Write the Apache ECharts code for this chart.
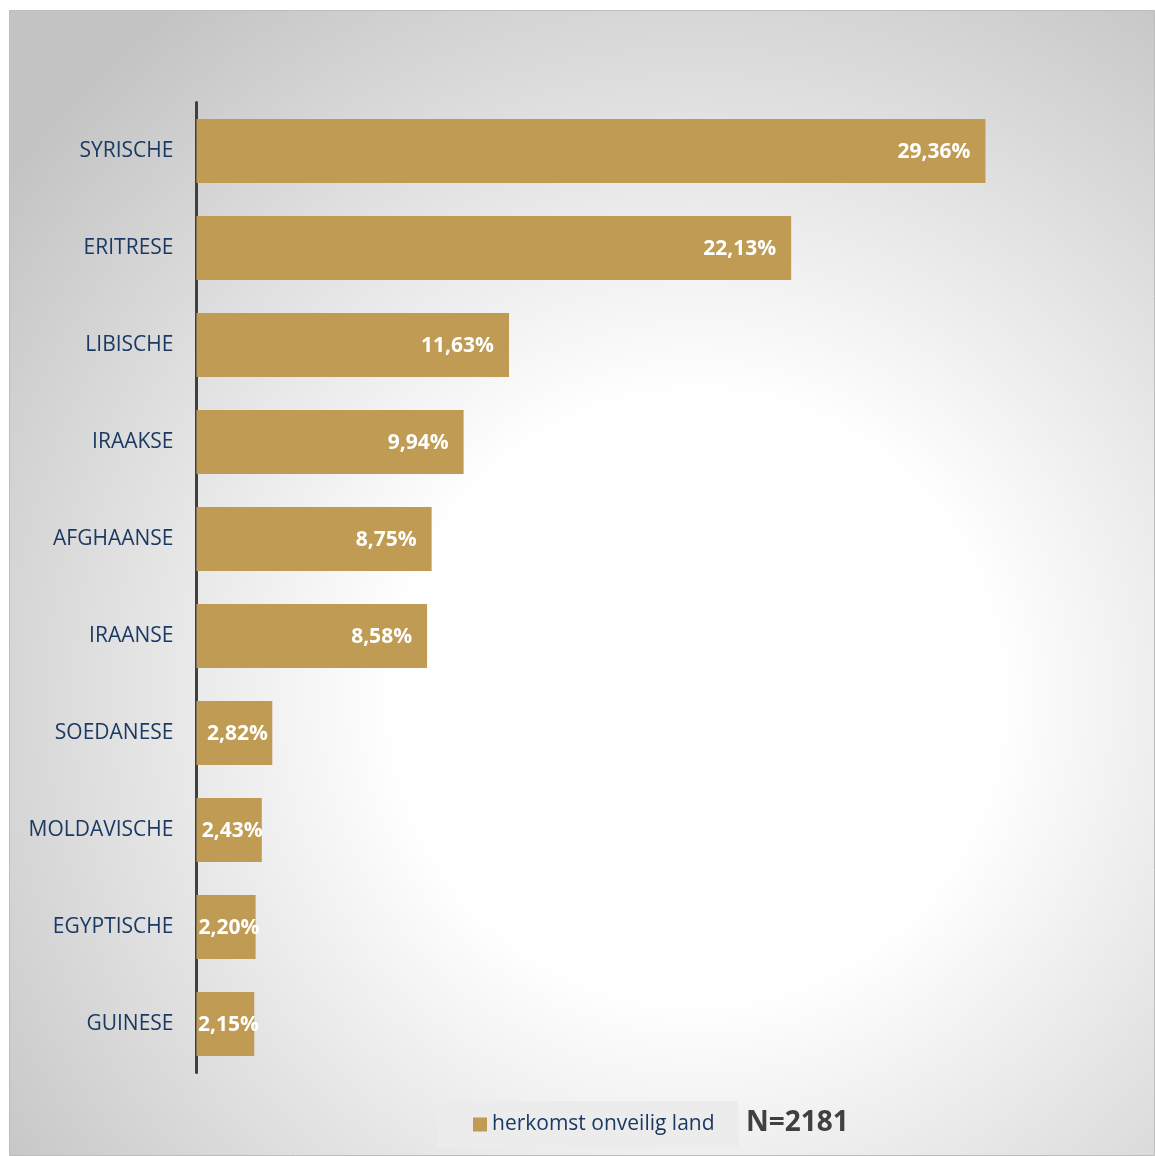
<!DOCTYPE html>
<html>
<head>
<meta charset="utf-8">
<script src="https://cdn.jsdelivr.net/npm/echarts@6/dist/echarts.min.js"></script>
<style>html,body{margin:0;padding:0;background:#fff;}#c{width:1155px;height:1156px;}</style>
</head>
<body>
<div id="c"></div>
<script>
const categories = ['SYRISCHE','ERITRESE','LIBISCHE','IRAAKSE','AFGHAANSE','IRAANSE','SOEDANESE','MOLDAVISCHE','EGYPTISCHE','GUINESE'];
const values = [29.36, 22.13, 11.63, 9.94, 8.75, 8.58, 2.82, 2.43, 2.20, 2.15];
const seriesName = 'herkomst onveilig land';
const note = 'N=2181';

const chart = echarts.init(document.getElementById('c'));
const data = values.map(v => ({
  value: v,
  label: v < 5 ? { position: 'inside', offset: [3, 1] } : { position: 'insideRight', distance: 15, offset: [0, 1] }
}));
chart.setOption({
  backgroundColor: '#ffffff',
  animation: false,
  graphic: [
    {
      type: 'rect', z: -10, silent: true,
      shape: { x: 9.5, y: 10.5, width: 1145, height: 1145 },
      style: {
        fill: new echarts.graphic.RadialGradient(0.6, 0.6, 0.75, [
          { offset: 0, color: '#ffffff' },
          { offset: 0.35, color: '#ffffff' },
          { offset: 1, color: '#c4c4c4' }
        ]),
        stroke: '#bdbdbd', lineWidth: 1
      }
    },
    {
      type: 'text', left: 746, top: 1109,
      style: { text: note, fill: '#404040', font: 'bold 28px "Open Sans", sans-serif' }
    }
  ],
  grid: { left: 196.5, width: 940.5, top: 102.5, bottom: 83.5, containLabel: false },
  xAxis: { type: 'value', min: 0, max: 35, show: false, splitLine: { show: false } },
  yAxis: {
    type: 'category', data: categories, inverse: true,
    axisLine: { show: true, lineStyle: { color: '#404040', width: 3 } },
    axisTick: { show: false },
    axisLabel: { color: '#1b3a63', fontSize: 21, fontFamily: '"Open Sans", sans-serif', margin: 23, padding: [2, 0, 0, 0] }
  },
  legend: {
    data: [seriesName], left: 438, top: 1101,
    backgroundColor: '#ececec',
    padding: [13, 24, 13, 35],
    itemWidth: 14, itemHeight: 14, itemGap: 5,
    icon: 'rect',
    textStyle: { color: '#1b3a63', fontSize: 21, fontFamily: '"Open Sans", sans-serif' }
  },
  series: [{
    type: 'bar', name: seriesName, data: data,
    barCategoryGap: '34%',
    itemStyle: { color: '#bf9b53' },
    label: {
      show: true, color: '#ffffff', fontWeight: 'bold', fontSize: 21,
      fontFamily: '"Open Sans", sans-serif',
      formatter: p => p.value.toFixed(2).replace('.', ',') + '%'
    }
  }]
});
</script>
</body>
</html>
